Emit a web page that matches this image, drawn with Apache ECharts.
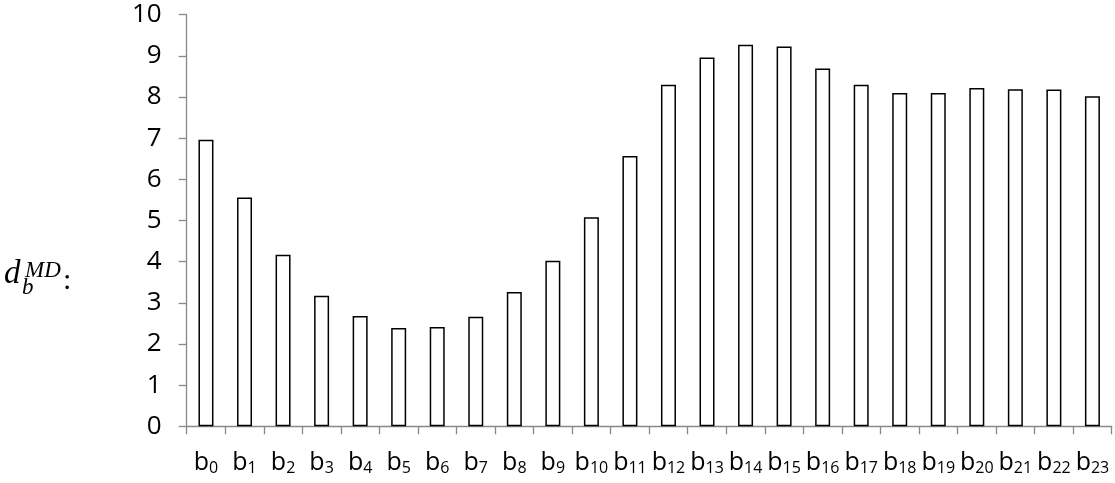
<!DOCTYPE html>
<html>
<head>
<meta charset="utf-8">
<script src="https://cdn.jsdelivr.net/npm/echarts@6/dist/echarts.min.js"></script>
<style>
html,body{margin:0;padding:0;background:#fff;}
#c{width:1115px;height:483px;}
</style>
</head>
<body>
<div id="c"></div>
<script>
var categories = ['0','1','2','3','4','5','6','7','8','9','10','11','12','13','14','15','16','17','18','19','20','21','22','23'];
var values = [6.96, 5.56, 4.17, 3.17, 2.68, 2.39, 2.41, 2.66, 3.26, 4.02, 5.08, 6.57,
              8.30, 8.96, 9.27, 9.23, 8.69, 8.30, 8.10, 8.10, 8.22, 8.19, 8.18, 8.02];
var yTicks = [0, 10, 1];

var chart = echarts.init(document.getElementById('c'), null, {renderer: 'canvas'});
var axisGray = '#898989';
chart.setOption({
  animation: false,
  backgroundColor: '#ffffff',
  grid: {left: 186.7, right: 3.3, top: 14.7, bottom: 56.7, containLabel: false},
  xAxis: {
    type: 'category',
    data: categories,
    boundaryGap: true,
    axisLine: {lineStyle: {color: axisGray, width: 1.3}},
    axisTick: {show: true, length: 8, alignWithLabel: false, lineStyle: {color: axisGray, width: 1.3}},
    axisLabel: {
      interval: 0,
      margin: 24,
      formatter: function (v) { return '{b|b}{s|' + v + '}'; },
      rich: {
        b: {fontFamily: 'Open Sans', fontSize: 25, color: '#000'},
        s: {fontFamily: 'Open Sans', fontSize: 16, color: '#000', padding: [10, 0, 0, 0]}
      }
    },
    splitLine: {show: false}
  },
  yAxis: {
    type: 'value',
    min: yTicks[0],
    max: yTicks[1],
    interval: yTicks[2],
    axisLine: {show: true, lineStyle: {color: axisGray, width: 1.3}},
    axisTick: {show: true, length: 8, lineStyle: {color: axisGray, width: 1.3}},
    axisLabel: {fontFamily: 'Open Sans', fontSize: 26, color: '#000', margin: 25},
    splitLine: {show: false}
  },
  series: [{
    type: 'bar',
    data: values,
    barWidth: 15,
    itemStyle: {color: '#ffffff', borderColor: '#000000', borderWidth: 1.5}
  }],
  graphic: [
    {type: 'text', left: 4, top: 258, style: {text: 'd', font: 'italic 33px "Liberation Serif"', fill: '#000'}},
    {type: 'text', left: 25, top: 259, style: {text: 'MD', font: 'italic 23px "Liberation Serif"', fill: '#000'}},
    {type: 'text', left: 22, top: 276, style: {text: 'b', font: 'italic 23px "Liberation Serif"', fill: '#000'}},
    {type: 'text', left: 63, top: 266, style: {text: ':', font: '30px "Liberation Serif"', fill: '#000'}}
  ]
});
</script>
</body>
</html>
